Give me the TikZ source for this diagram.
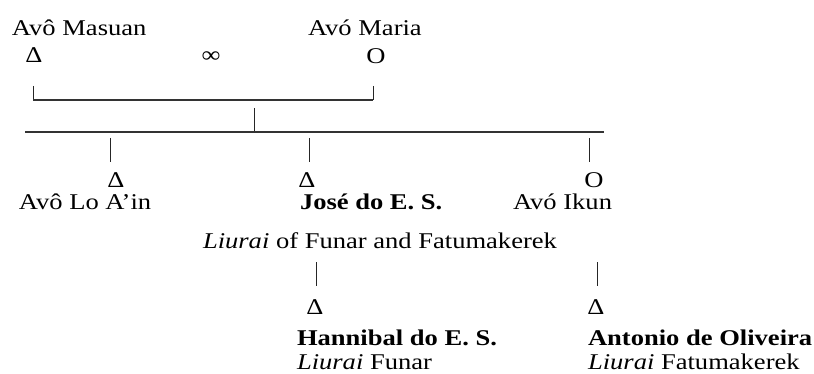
\documentclass[tikz,border=0pt]{standalone}
\usepackage{fontspec}
\setmainfont{Liberation Serif}[FakeStretch=1.18]
\begin{document}
\begin{tikzpicture}[x=1pt,y=-1pt,
  txt/.style={inner sep=0pt, outer sep=0pt, font=\fontsize{22.5}{27}\selectfont},
  lbl/.style={txt, anchor=base west, text height=15pt, text depth=4.5pt},
  sym/.style={txt, anchor=base, text height=15pt, text depth=0pt},
  kin/.style={line width=1pt, draw=black!85},
  sib/.style={line width=1.3pt, draw=black!80}]
\useasboundingbox (0,0) rectangle (814,374);

% first generation
\node[lbl] (masuan) at (12,36) {Avô Masuan};
\node[lbl] (maria) at (308,36) {Avó Maria};
\node[sym] (masuanS) at (34,63) {Δ};
\node[sym] (marr) at (211,63) {∞};
\node[sym] (mariaS) at (376,64) {O};

% marriage bracket
\coordinate (mlt) at (33,86);
\coordinate (mlb) at (33,100);
\coordinate (mrt) at (373,86);
\coordinate (mrb) at (373,100);
\draw[kin] (mlt) -- (mlb);
\draw[kin] (mrt) -- (mrb);
\draw[sib] (mlb) -- (mrb);

% descent and sibling line
\coordinate (dtop) at (254,108);
\coordinate (dbot) at (254,132);
\coordinate (sl) at (25,132);
\coordinate (sr) at (604,132);
\draw[kin] (dtop) -- (dbot);
\draw[sib] (sl) -- (sr);

% second generation
\coordinate (c1t) at (110,138); \coordinate (c1b) at (110,162);
\coordinate (c2t) at (309,138); \coordinate (c2b) at (309,162);
\coordinate (c3t) at (589,138); \coordinate (c3b) at (589,162);
\draw[kin] (c1t) -- (c1b);
\draw[kin] (c2t) -- (c2b);
\draw[kin] (c3t) -- (c3b);
\node[sym] (loS) at (116,188) {Δ};
\node[sym] (joseS) at (307,188) {Δ};
\node[sym] (ikunS) at (594,188) {O};
\node[lbl] (lo) at (19,210) {Avô Lo A’in};
\node[lbl] (jose) at (300,210) {\bfseries José do E. S.};
\node[lbl] (ikun) at (513,210) {Avó Ikun};
\node[lbl] (joseT) at (203,248) {\itshape Liurai\/\upshape{} of Funar and Fatumakerek};

% third generation
\coordinate (g1t) at (316,262); \coordinate (g1b) at (316,286);
\coordinate (g2t) at (597,262); \coordinate (g2b) at (597,286);
\draw[kin] (g1t) -- (g1b);
\draw[kin] (g2t) -- (g2b);
\node[sym] (hanS) at (315,314) {Δ};
\node[sym] (antS) at (596,314) {Δ};
\node[lbl] (han) at (297,345) {\bfseries Hannibal do E. S.};
\node[lbl] (ant) at (588,345) {\bfseries Antonio de Oliveira};
\node[lbl] (hanT) at (297,369) {\itshape Liurai\/\upshape{} Funar};
\node[lbl] (antT) at (588,369) {\itshape Liurai\/\upshape{} Fatumakerek};
\end{tikzpicture}
\end{document}
